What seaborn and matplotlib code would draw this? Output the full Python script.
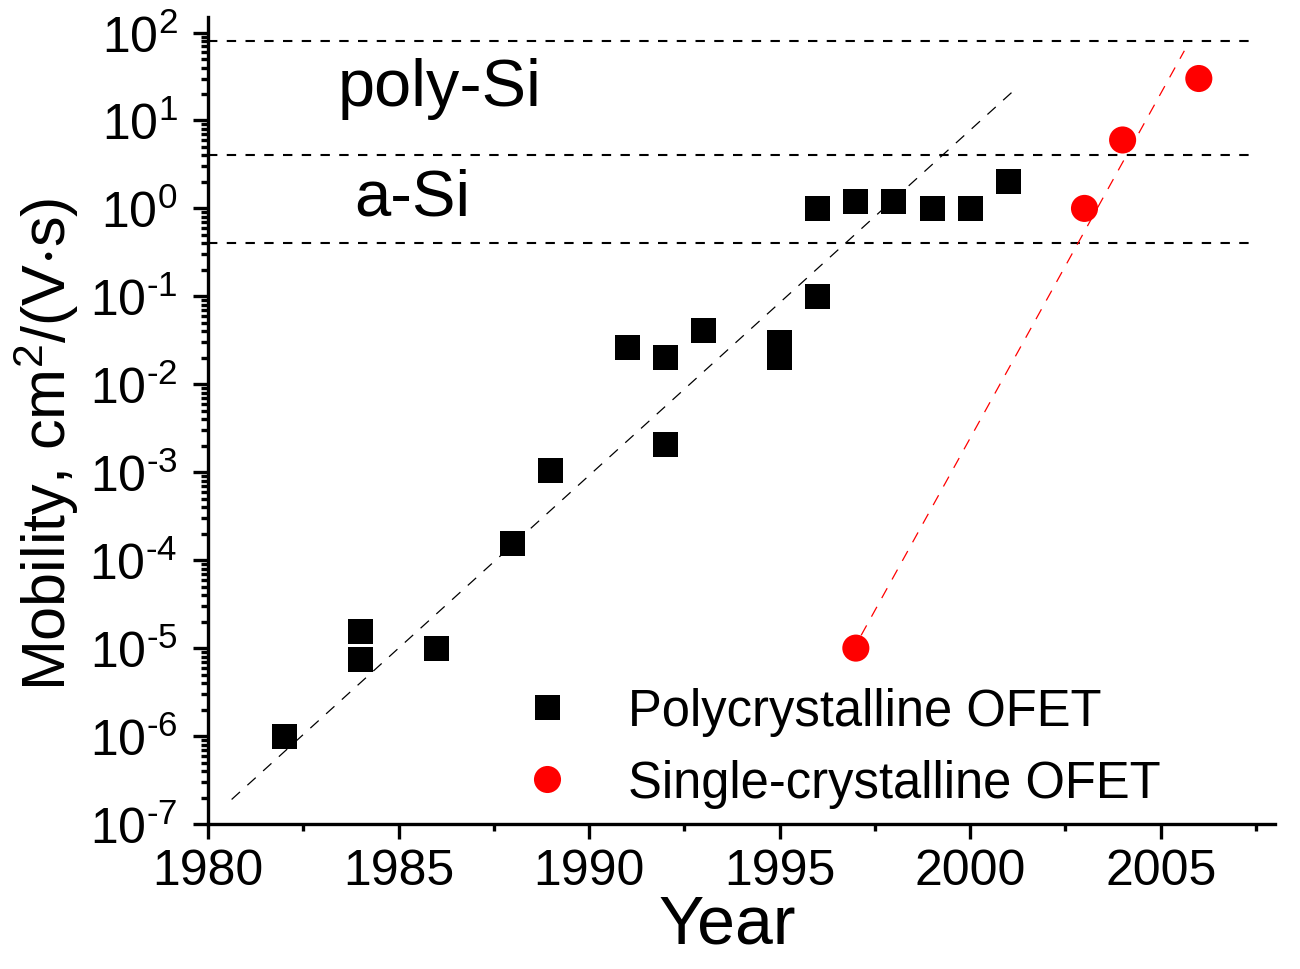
import numpy as np
import pandas as pd
import seaborn as sns
import matplotlib.pyplot as plt
from matplotlib.ticker import MultipleLocator, LogLocator, FuncFormatter
from matplotlib.lines import Line2D

# data
poly_year = [1982, 1984, 1984, 1986, 1988, 1989, 1991, 1992, 1992, 1993,
             1995, 1995, 1996, 1996, 1997, 1998, 1999, 2000, 2001]
poly_mu = [1e-6, 1.55e-5, 7.4e-6, 1e-5, 1.55e-4, 1.05e-3, 2.6e-2, 2e-2, 2.05e-3, 4.1e-2,
           3e-2, 2e-2, 0.1, 1.0, 1.2, 1.2, 1.0, 1.0, 2.0]

single_year = [1997, 2003, 2004, 2006]
single_mu = [1e-5, 1.0, 6.0, 30.0]

# dashed trend lines (end points)
poly_fit_year = [1980.62, 2001.2]
poly_fit_mu = [1.9e-7, 23.0]
single_fit_year = [1997.14, 2005.62]
single_fit_mu = [1.4e-5, 62.0]

# reference levels (a-Si / poly-Si bands)
ref_levels = [80.0, 4.0, 0.4]
ref_year = [1980, 2007.5]

sns.set_style("ticks")
plt.rcParams['font.family'] = ['Liberation Sans', 'DejaVu Sans']
plt.rcParams['mathtext.fontset'] = 'custom'
plt.rcParams['mathtext.rm'] = 'Liberation Sans'
plt.rcParams['mathtext.it'] = 'Liberation Sans:italic'
plt.rcParams['mathtext.default'] = 'regular'
plt.rcParams['text.color'] = 'black'
plt.rcParams['axes.labelcolor'] = 'black'
plt.rcParams['xtick.color'] = 'black'
plt.rcParams['ytick.color'] = 'black'

fig = plt.figure(figsize=(13, 9.7), dpi=100)
ax = fig.add_axes([0.16, 0.1495, 0.8208, 0.8319])

df_poly = pd.DataFrame({'year': poly_year, 'mu': poly_mu})
df_single = pd.DataFrame({'year': single_year, 'mu': single_mu})

# horizontal reference lines
for lev in ref_levels:
    ax.plot(ref_year, [lev, lev], color='black', lw=1.5,
            linestyle=(0, (4.5, 4.5)), zorder=1)

# trend lines
sns.lineplot(x=poly_fit_year, y=poly_fit_mu, ax=ax, color='black', lw=0.9,
             linestyle=(0, (9, 8)), zorder=2)
sns.lineplot(x=single_fit_year, y=single_fit_mu, ax=ax, color='red', lw=0.9,
             linestyle=(0, (9, 8)), zorder=2)

# data points
sns.scatterplot(data=df_poly, x='year', y='mu', ax=ax, marker='s', s=18**2,
                color='black', edgecolor='none', linewidth=0, zorder=3)
sns.scatterplot(data=df_single, x='year', y='mu', ax=ax, marker='o', s=19.5**2,
                color='red', edgecolor='none', linewidth=0, zorder=3)

ax.set_yscale('log')
ax.set_xlim(1980, 2008)
ax.set_ylim(1e-7, 1.5e2)

ax.xaxis.set_major_locator(MultipleLocator(5))
ax.xaxis.set_minor_locator(MultipleLocator(2.5))
ax.yaxis.set_major_locator(LogLocator(base=10, numticks=20))
ax.yaxis.set_minor_locator(LogLocator(base=10, subs=np.arange(2, 10), numticks=20))
ax.yaxis.set_major_formatter(
    FuncFormatter(lambda v, p: r'$10^{\text{%d}}$' % round(np.log10(v))))

ax.tick_params(which='major', direction='out', length=11, width=2.4,
               labelsize=36, pad=6)
ax.tick_params(axis='y', which='major', labelsize=36, pad=11)
ax.tick_params(which='minor', direction='out', length=5, width=2.4)

for side in ['top', 'right']:
    ax.spines[side].set_visible(False)
for side in ['left', 'bottom']:
    ax.spines[side].set_linewidth(2.4)
    ax.spines[side].set_color('black')

ax.set_xlabel('Year', fontsize=49)
ax.xaxis.set_label_coords(0.487, -0.125)
ax.xaxis.label.set_va('center')
ax.set_ylabel(r'Mobility, cm$^2$/(V$\cdot$s)', fontsize=44)
ax.yaxis.set_label_coords(-0.152, 0.472)
ax.yaxis.label.set_va('center')

ax.text(1983.4, 14.9, 'poly-Si', fontsize=48, ha='left', va='baseline')
ax.text(1983.85, 0.845, 'a-Si', fontsize=47, ha='left', va='baseline')

handles = [
    Line2D([], [], marker='s', linestyle='none', color='black', markersize=18,
           markeredgewidth=0),
    Line2D([], [], marker='o', linestyle='none', color='red', markersize=19.5,
           markeredgewidth=0),
]
ax.legend(handles, ['Polycrystalline OFET', 'Single-crystalline OFET'],
          loc='center left', bbox_to_anchor=(0.2938, 0.095), frameon=False,
          fontsize=36.5, handlelength=1.0, handletextpad=1.1, labelspacing=0.45,
          borderpad=0, borderaxespad=0)

fig.savefig('out.png', dpi=100, facecolor='white')
